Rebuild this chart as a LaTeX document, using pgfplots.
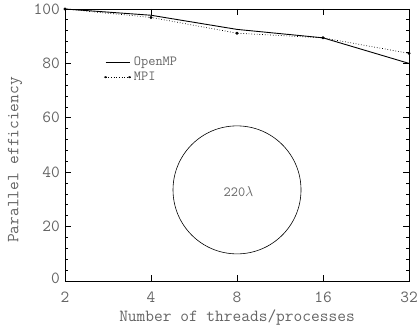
\documentclass[border=0pt]{standalone}
\usepackage{pgfplots}
\pgfplotsset{compat=1.18}
\definecolor{labelgray}{RGB}{100,100,100}
\newcommand\bigtt{\fontsize{17}{20}\selectfont\ttfamily}
\newcommand\smalltt{\fontsize{14}{16}\selectfont\ttfamily}

\begin{document}
\begin{tikzpicture}
\begin{axis}[
  name=ax,
  scale only axis, width=344bp, height=272bp,
  xmode=log, log basis x=2,
  xmin=2, xmax=32, ymin=0, ymax=100,
  xtick={2,4,8,16,32},
  xticklabels={\bigtt 2,\bigtt 4,\bigtt 8,\bigtt 16,\bigtt 32},
  xminorticks=false,
  ytick={0,20,40,60,80,100},
  yticklabels={\raisebox{5bp}{\bigtt 0},\bigtt 20,\bigtt 40,\bigtt 60,\bigtt 80,\raisebox{-5bp}{\bigtt 100}},
  minor y tick num=4,
  xtick pos=both, ytick pos=both,
  tick align=inside,
  major tick length=6.5bp, minor tick length=3.5bp,
  every tick/.style={black, line width=0.8pt},
  axis line style={line width=0.7pt},
  ticklabel style={text=labelgray},
  yticklabel style={inner sep=0pt, anchor=east, xshift=-5bp},
  xticklabel style={inner sep=0pt, anchor=center, yshift=-16bp},
  xlabel={\bigtt Number of threads/processes},
  ylabel={\bigtt Parallel efficiency},
  every axis x label/.style={at={(axis description cs:0.5,0)}, yshift=-37bp, anchor=center,
    text=labelgray},
  every axis y label/.style={at={(axis description cs:0,0.445)}, xshift=-50bp, rotate=90, anchor=center,
    text=labelgray},
  legend style={draw=none, fill=none, at={(rel axis cs:0.113,0.828)}, anchor=north west,
    inner sep=0pt, text=labelgray, row sep=3bp, column sep=2bp, nodes={inner sep=1bp}},
  legend cell align=left,
]
% OpenMP threads
\addplot[black, line width=0.9pt,
  legend image code/.code={\draw[black, line width=0.7pt] (0bp,0bp) -- (24bp,0bp);}]
  coordinates {(2,100) (4,97.7) (8,92.5) (16,89.4) (32,80.0)};
\addlegendentry{\smalltt OpenMP}
% MPI processes
\addplot[black, dotted, line width=0.7pt, mark=*, mark size=1.1pt, mark options={solid},
  legend image code/.code={\draw[black, dotted, line width=0.7pt] (0bp,0bp) -- (24bp,0bp);
    \fill[black] (0bp,0bp) circle (1.1pt); \fill[black] (24bp,0bp) circle (1.1pt);}]
  coordinates {(2,100) (4,96.9) (8,91.1) (16,89.4) (32,83.7)};
\addlegendentry{\smalltt MPI}
% problem size marker
\draw[black, line width=0.6pt] (axis cs:8,33.5) circle [radius=64bp];
\node[text=labelgray] at (axis cs:8.1,33) {\smalltt 220$\lambda$};
\end{axis}
\pgfresetboundingbox
\path ([shift={(-65bp,-47bp)}]ax.south west) rectangle ([shift={(9bp,9bp)}]ax.north east);
\end{tikzpicture}
\end{document}
